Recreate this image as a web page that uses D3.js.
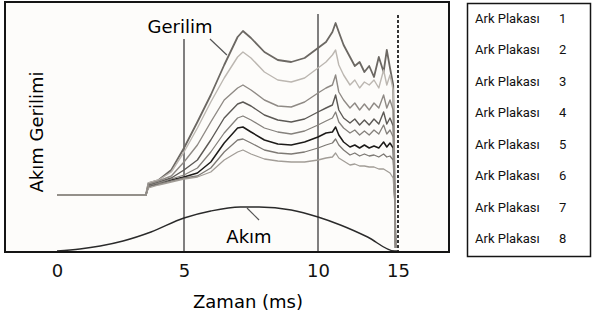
<!DOCTYPE html>
<html>
<head>
<meta charset="utf-8">
<script src="https://cdn.jsdelivr.net/npm/d3@7/dist/d3.min.js"></script>
<style>
  body { margin: 0; background: #fff; }
  svg { display: block; }
</style>
</head>
<body>
<div id="chart"></div>
<script>
// time axis (ms) shared by all voltage traces
const times = [0, 3.5, 3.6, 4.0, 4.5, 5.0, 5.5, 6.0, 6.5, 7.0, 7.2, 7.5, 8.0, 8.5, 9.0, 9.5,
  10.0, 10.5, 10.9, 11.1, 11.3, 11.6, 12.0, 12.3, 12.6, 12.9, 13.2, 13.5, 13.8, 14.1, 14.3,
  14.5, 14.7, 14.8, 14.85];

// arc voltage, one trace per arc plate (arbitrary units)
const plate1 = [28, 28, 34, 35.5, 40.5, 51.5, 64.5, 78, 93, 107, 110, 106.5, 99.5, 95.5, 94.5, 96.5,
  101.5, 104.5, 109.5, 114, 109.5, 103, 97, 92.5, 94.5, 89.5, 92.5, 87, 97, 89.5, 100.5, 91.5, 83, 28, 1.5];
const plate2 = [28, 28, 34, 35.5, 39.5, 49.5, 61.5, 74.5, 86.5, 97, 99.5, 96.5, 89.5, 85.5, 84.5, 86.5,
  91.5, 94.5, 98, 100.5, 93, 88, 83, 85.5, 81.5, 84.5, 83, 85.5, 81.5, 90.5, 83, 88, 80.5, 28, 1.5];
const plate3 = [28, 28, 33.5, 35, 37.5, 44.5, 53, 64.5, 75.5, 81.5, 83, 80.5, 75.5, 72.5, 72, 74.5,
  79, 81.5, 83, 88, 79.5, 75.5, 71.5, 74, 70.5, 73.5, 70.5, 74, 71.5, 78, 71.5, 75.5, 70.5, 28, 1.5];
const plate4 = [28, 28, 33, 34.5, 36.5, 40.5, 45.5, 55.5, 66.5, 73.5, 74.5, 72.5, 68, 65.5, 64.5, 66,
  69.5, 71.5, 73, 78, 70.5, 66.5, 64, 66, 63, 65.5, 63, 66, 63.5, 69.5, 63.5, 66.5, 62.5, 26.5, 1.5];
const plate5 = [28, 28, 32.5, 34, 36, 38, 41.5, 49.5, 59, 66.5, 67.5, 65.5, 61.5, 59.5, 58.5, 60,
  63, 65, 66.5, 69.5, 64.5, 61.5, 59, 60.5, 58, 60, 58, 60.5, 58.5, 63, 58.5, 60.5, 57, 26.5, 1.5];
const plate6 = [28, 28, 32.5, 33.5, 35.5, 37, 39, 44.5, 54, 61.5, 62, 59.5, 55.5, 53.5, 53, 54.5,
  57, 59, 59.5, 62, 58, 54.5, 52, 53, 51.5, 53, 51.5, 52.5, 51.5, 54.5, 52, 54, 51.5, 25.5, 1.5];
const plate7 = [28, 28, 32, 33.5, 35, 36.5, 37.5, 41.5, 49.5, 55.5, 56, 54, 50.5, 49, 48.5, 49.5,
  51.5, 53, 54, 56, 53, 50.5, 48, 49, 47.5, 48.5, 47.5, 48, 47, 48.5, 47, 47.5, 45.5, 25.5, 1.5];
const plate8 = [28, 28, 31.5, 33, 34.5, 36, 37, 39.5, 45.5, 49.5, 50.5, 48.5, 46, 45, 44.5, 44.5,
  45.5, 46.5, 47, 49, 46.5, 45, 43, 43.5, 42.5, 42.5, 42, 42, 41, 41, 40, 39, 36.5, 24.5, 1.5];

const plateNames = ['Ark Plakası', 'Ark Plakası', 'Ark Plakası', 'Ark Plakası',
  'Ark Plakası', 'Ark Plakası', 'Ark Plakası', 'Ark Plakası'];
const plateNumbers = ['1', '2', '3', '4', '5', '6', '7', '8'];
const plateColors = ['#6c6863', '#bcb7b1', '#8f8a85', '#5c5955', '#85817c', '#1c1a18', '#7d7974', '#a29d97'];
const plateWidths = [1.8, 1.4, 1.4, 1.4, 1.3, 1.5, 1.3, 1.3];

// current (Akım)
const currentTimes = [0, 0.9, 1.7, 2.6, 3.7, 5, 6, 7.1, 7.8, 9, 10, 11.4, 13.1, 14.8, 15];
const currentValues = [0, 1, 2.5, 5, 9.5, 16.5, 20, 22, 22, 20.5, 17, 13, 7, 0, 0];

const tickValues = [0, 5, 10, 15];
// vertical marker lines: time and top value
const markerTimes = [5, 10];
const markerTops = [106, 118.5];
const breakTime = 15;
const breakTop = 118;

const width = 593, height = 322;
const frame = { left: 5, top: 2, right: 449, bottom: 252 };

const svg = d3.select('#chart').append('svg')
  .attr('width', width)
  .attr('height', height);

// the original time axis is not linear, so the scale is piecewise
const x = d3.scaleLinear()
  .domain([0, 5, 10, 15])
  .range([57, 184, 318, 398]);

const y = d3.scaleLinear()
  .domain([0, 125])
  .range([251, 1]);

svg.append('rect')
  .attr('x', frame.left)
  .attr('y', frame.top)
  .attr('width', frame.right - frame.left)
  .attr('height', frame.bottom - frame.top)
  .attr('fill', '#fdfcfa');

// marker lines at 5 ms and 10 ms
markerTimes.forEach((t, i) => {
  svg.append('line')
    .attr('x1', x(t)).attr('x2', x(t))
    .attr('y1', y(markerTops[i])).attr('y2', frame.bottom)
    .attr('stroke', '#4a4a4a')
    .attr('stroke-width', 1.4);
});

// voltage traces
const plates = [plate1, plate2, plate3, plate4, plate5, plate6, plate7, plate8];
const line = d3.line()
  .x(d => x(d[0]))
  .y(d => y(d[1]));

// dark traces first, a mid grey one last so the shared baseline stays grey
const order = [5, 3, 0, 6, 4, 1, 7, 2];
order.forEach(i => {
  svg.append('path')
    .datum(times.map((t, j) => [t, plates[i][j]]))
    .attr('d', line)
    .attr('fill', 'none')
    .attr('stroke', plateColors[i])
    .attr('stroke-width', plateWidths[i])
    .attr('stroke-linejoin', 'round');
});

// current trace
svg.append('path')
  .datum(currentTimes.map((t, j) => [t, currentValues[j]]))
  .attr('d', d3.line().x(d => x(d[0])).y(d => y(d[1])).curve(d3.curveMonotoneX))
  .attr('fill', 'none')
  .attr('stroke', '#2a2a2a')
  .attr('stroke-width', 1.4);

// dashed line at current zero
svg.append('line')
  .attr('x1', x(breakTime)).attr('x2', x(breakTime))
  .attr('y1', y(breakTop)).attr('y2', frame.bottom)
  .attr('stroke', '#333')
  .attr('stroke-width', 2)
  .attr('stroke-dasharray', '3,2');

// frame
svg.append('rect')
  .attr('x', frame.left)
  .attr('y', frame.top)
  .attr('width', frame.right - frame.left)
  .attr('height', frame.bottom - frame.top)
  .attr('fill', 'none')
  .attr('stroke', '#151515')
  .attr('stroke-width', 2);

// labels in the plot
const bigFont = 'DejaVu Sans, sans-serif';
svg.append('text')
  .attr('x', 180).attr('y', 33)
  .attr('text-anchor', 'middle')
  .style('font-family', bigFont).style('font-size', '18px')
  .text('Gerilim');
svg.append('line')
  .attr('x1', x(5.97)).attr('y1', y(106))
  .attr('x2', x(6.6)).attr('y2', y(98))
  .attr('stroke', '#555').attr('stroke-width', 1.2);

svg.append('text')
  .attr('x', 249).attr('y', 243)
  .attr('text-anchor', 'middle')
  .style('font-family', bigFont).style('font-size', '18px')
  .text('Akım');
svg.append('line')
  .attr('x1', x(7.35)).attr('y1', y(21.5))
  .attr('x2', x(7.8)).attr('y2', y(15.5))
  .attr('stroke', '#555').attr('stroke-width', 1.2);

// x axis
const xAxis = svg.append('g')
  .attr('transform', `translate(0, ${frame.bottom})`)
  .call(d3.axisBottom(x).tickValues(tickValues).tickSize(0).tickPadding(12));
xAxis.select('.domain').remove();
xAxis.selectAll('text')
  .style('font-family', bigFont)
  .style('font-size', '18px')
  .attr('fill', '#111');

svg.append('text')
  .attr('x', 248).attr('y', 308)
  .attr('text-anchor', 'middle')
  .style('font-family', bigFont).style('font-size', '18px')
  .text('Zaman (ms)');

svg.append('text')
  .attr('transform', 'translate(43, 132) rotate(-90)')
  .attr('text-anchor', 'middle')
  .style('font-family', bigFont).style('font-size', '18px')
  .text('Akım Gerilimi');

// legend (text only, no swatches)
const legend = svg.append('g');
legend.append('rect')
  .attr('x', 467.5).attr('y', 3.5)
  .attr('width', 123).attr('height', 253)
  .attr('fill', '#fff')
  .attr('stroke', '#151515')
  .attr('stroke-width', 1.5);

const rows = legend.selectAll('text.row')
  .data(plateNames)
  .enter()
  .append('text')
  .attr('class', 'row')
  .attr('y', (d, i) => 18 + i * 31.5)
  .attr('dy', '0.35em')
  .style('font-family', 'Roboto, sans-serif')
  .style('font-size', '13px')
  .attr('fill', '#111');
rows.append('tspan').attr('x', 475).text(d => d);
rows.append('tspan').attr('x', 559).text((d, i) => plateNumbers[i]);
</script>
</body>
</html>
